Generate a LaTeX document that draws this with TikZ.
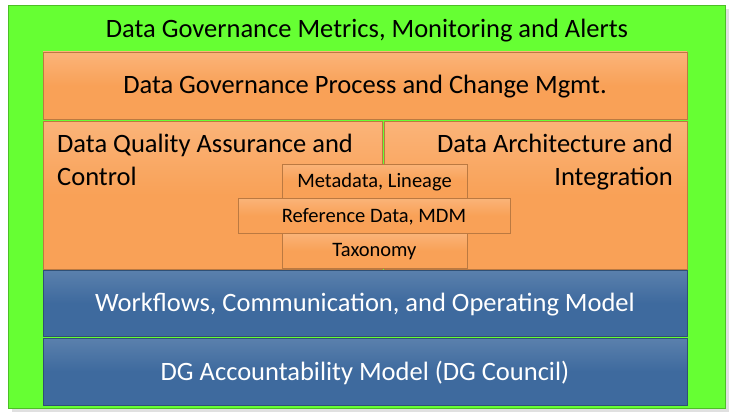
\documentclass[tikz,border=0pt]{standalone}
\usepackage{fontspec}
\setmainfont{Carlito}
\definecolor{dggreen}{HTML}{66FF33}
\definecolor{dgorange}{HTML}{F9A157}
\definecolor{dgblue}{HTML}{3E6A9E}
\begin{document}
\begin{tikzpicture}[x=1pt, y=-1pt,
    layer/.style = {draw = #1!75!black, line width = .8pt, inner sep = 0pt},
    orangebox/.style = {layer = dgorange, top color = dgorange!80!white, bottom color = dgorange, middle color = dgorange},
    bluebox/.style = {layer = dgblue, top color = dgblue!85!white, bottom color = dgblue, middle color = dgblue, text = white, font = \fontsize{26.5}{32}\selectfont, text depth = 2pt},
    smallbox/.style = {orangebox, font = \fontsize{20.5}{24}\selectfont, text depth = 1pt}]
\useasboundingbox (0,0) rectangle (734,420);
\fill[black!12] (12,9) rectangle (729,412);
\node[layer = dggreen, fill = dggreen, minimum width = 717pt, minimum height = 403pt] (outer) at (366.5,206.5) {};
\node[font = \fontsize{26.5}{32}\selectfont] (title) at (367,31) {Data Governance Metrics, Monitoring and Alerts};
\node[orangebox, minimum width = 644pt, minimum height = 67pt, font = \fontsize{26.5}{32}\selectfont, text depth = 2pt] (process) at (365,85.5) {Data Governance Process and Change Mgmt.};
\node[orangebox, minimum width = 339pt, minimum height = 148pt] (quality) at (212.5,195) {};
\node[orangebox, minimum width = 303pt, minimum height = 148pt] (arch) at (535.5,195) {};
\node[anchor = north west, align = left, inner sep = 0pt, font = \fontsize{26.5}{32.5}\selectfont] (qualitytext) at (57,134) {Data Quality Assurance and\\Control};
\node[anchor = north east, align = right, inner sep = 0pt, font = \fontsize{26.5}{32.5}\selectfont] (archtext) at (673,134) {Data Architecture and\\Integration};
\node[bluebox, minimum width = 644pt, minimum height = 66pt] (workflow) at (365,303) {Workflows, Communication, and Operating Model};
\node[bluebox, minimum width = 644pt, minimum height = 67pt] (council) at (365,371.5) {DG Accountability Model (DG Council)};
% stacked boxes in the middle
\node[smallbox, minimum width = 185pt, minimum height = 34pt] (meta) at (374.5,181) {Metadata, Lineage};
\node[smallbox, minimum width = 272pt, minimum height = 35pt] (ref) at (374,215.5) {Reference Data, MDM};
\node[smallbox, minimum width = 185pt, minimum height = 35pt] (tax) at (374.5,250.5) {Taxonomy};
\end{tikzpicture}
\end{document}
